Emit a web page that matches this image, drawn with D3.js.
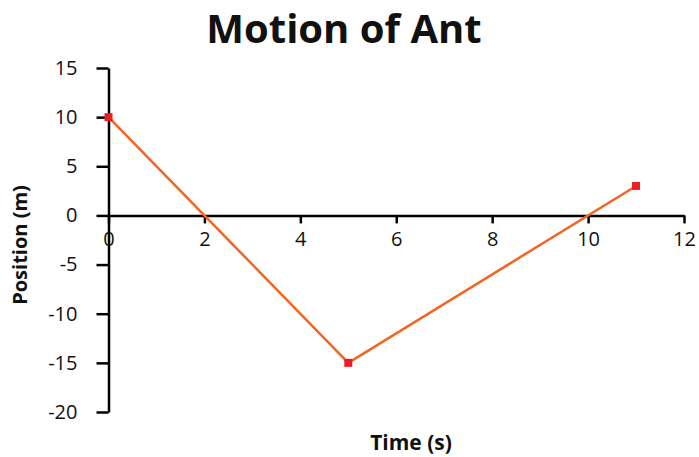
<!DOCTYPE html>
<html>
<head>
<meta charset="utf-8">
<script src="https://cdn.jsdelivr.net/npm/d3@7"></script>
<style>
  body { margin: 0; background: #fff; }
  svg text { font-family: "Open Sans", sans-serif; fill: #111; }
</style>
</head>
<body>
<svg id="chart" width="699" height="457"></svg>
<script>
// data
let times = [0, 5, 11];
let positions = [10, -15, 3];
let xTicks = [0, 2, 4, 6, 8, 10, 12];
let yTicks = [15, 10, 5, 0, -5, -10, -15, -20];

let svg = d3.select("#chart");

let x = d3.scaleLinear().domain([0, 12]).range([108.5, 684]);
let y = d3.scaleLinear().domain([-20, 15]).range([412, 68]);

// plain hyphen for negatives, like the original
let plainNumber = (d) => String(d);

// title
svg.append("text")
  .attr("x", 344)
  .attr("y", 43)
  .attr("text-anchor", "middle")
  .attr("font-size", 40)
  .attr("font-weight", "bold")
  .text("Motion of Ant");

// y axis
let yAxis = svg.append("g")
  .attr("transform", `translate(${x(0)},0)`)
  .call(d3.axisLeft(y).tickValues(yTicks).tickFormat(plainNumber)
    .tickSize(12).tickSizeOuter(0).tickPadding(19));
yAxis.select(".domain").attr("stroke-width", 2.5).attr("stroke", "#000");
yAxis.selectAll(".tick line").attr("stroke-width", 2.5).attr("stroke", "#000");
yAxis.selectAll(".tick text")
  .attr("font-size", 20)
  .attr("font-family", "Open Sans, sans-serif")
  .attr("fill", "#111");

// x axis crossing at zero
let xAxis = svg.append("g")
  .attr("transform", `translate(0,${y(0)})`)
  .call(d3.axisBottom(x).tickValues(xTicks).tickFormat(plainNumber)
    .tickSize(8).tickSizeOuter(0).tickPadding(8));
xAxis.select(".domain").attr("stroke-width", 2.5).attr("stroke", "#000");
xAxis.selectAll(".tick line").attr("stroke-width", 2.5).attr("stroke", "#000");
xAxis.selectAll(".tick text")
  .attr("font-size", 20)
  .attr("font-family", "Open Sans, sans-serif")
  .attr("fill", "#111");

// axis titles
svg.append("text")
  .attr("x", 411)
  .attr("y", 450)
  .attr("text-anchor", "middle")
  .attr("font-size", 21)
  .attr("font-weight", "bold")
  .text("Time (s)");

svg.append("text")
  .attr("transform", "translate(27,245) rotate(-90)")
  .attr("text-anchor", "middle")
  .attr("font-size", 20)
  .attr("font-weight", "bold")
  .text("Position (m)");

// series
let points = times.map((t, i) => ({ t: t, p: positions[i] }));

let line = d3.line()
  .x((d) => x(d.t))
  .y((d) => y(d.p));

svg.append("path")
  .datum(points)
  .attr("d", line)
  .attr("fill", "none")
  .attr("stroke", "#f26522")
  .attr("stroke-width", 2.5);

svg.append("g")
  .selectAll("rect")
  .data(points)
  .join("rect")
  .attr("x", (d) => x(d.t) - 4)
  .attr("y", (d) => y(d.p) - 4)
  .attr("width", 8)
  .attr("height", 8)
  .attr("fill", "#ed1c24");
</script>
</body>
</html>
